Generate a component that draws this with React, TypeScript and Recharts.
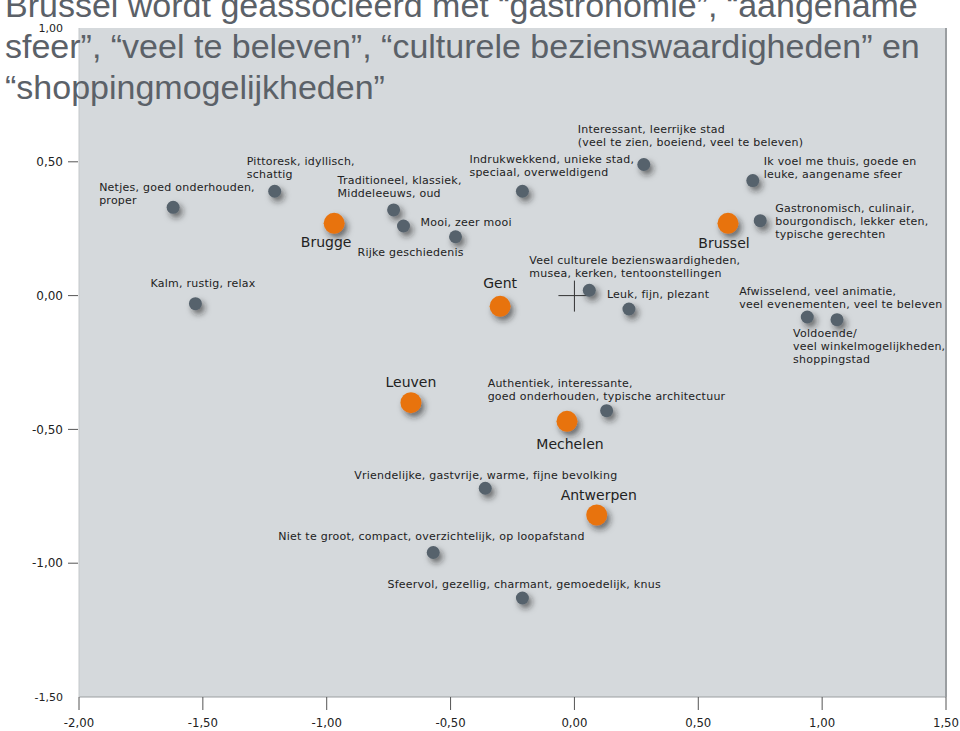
import { ScatterChart, Scatter, XAxis, YAxis, CartesianGrid, ReferenceLine, ReferenceDot } from 'recharts'

const titleLines = [
  'Brussel wordt geassocieerd met “gastronomie”, “aangename',
  'sfeer”, “veel te beleven”, “culturele bezienswaardigheden” en',
  '“shoppingmogelijkheden”'
]

const xTicks = [-2, -1.5, -1, -0.5, 0, 0.5, 1, 1.5]
const yTicks = [1, 0.5, 0, -0.5, -1, -1.5]

// kenmerken (grijze punten)
const attributeLabels = [
  ['Netjes, goed onderhouden,', 'proper'],
  ['Pittoresk, idyllisch,', 'schattig'],
  ['Traditioneel, klassiek,', 'Middeleeuws, oud'],
  ['Rijke geschiedenis'],
  ['Mooi, zeer mooi'],
  ['Indrukwekkend, unieke stad,', 'speciaal, overweldigend'],
  ['Interessant, leerrijke stad', '(veel te zien, boeiend, veel te beleven)'],
  ['Ik voel me thuis, goede en', 'leuke, aangename sfeer'],
  ['Gastronomisch, culinair,', 'bourgondisch, lekker eten,', 'typische gerechten'],
  ['Kalm, rustig, relax'],
  ['Veel culturele bezienswaardigheden,', 'musea, kerken, tentoonstellingen'],
  ['Leuk, fijn, plezant'],
  ['Afwisselend, veel animatie,', 'veel evenementen, veel te beleven'],
  ['Voldoende/', 'veel winkelmogelijkheden,', 'shoppingstad'],
  ['Authentiek, interessante,', 'goed onderhouden, typische architectuur'],
  ['Vriendelijke, gastvrije, warme, fijne bevolking'],
  ['Niet te groot, compact, overzichtelijk, op loopafstand'],
  ['Sfeervol, gezellig, charmant, gemoedelijk, knus']
]
const attributeX = [-1.62, -1.21, -0.73, -0.69, -0.48, -0.21, 0.28, 0.72, 0.75, -1.53, 0.06, 0.22, 0.94, 1.06, 0.13, -0.36, -0.57, -0.21]
const attributeY = [0.33, 0.39, 0.32, 0.26, 0.22, 0.39, 0.49, 0.43, 0.28, -0.03, 0.02, -0.05, -0.08, -0.09, -0.43, -0.72, -0.96, -1.13]

// steden (oranje punten)
const cityNames = ['Brugge', 'Gent', 'Brussel', 'Leuven', 'Mechelen', 'Antwerpen']
const cityX = [-0.97, -0.30, 0.62, -0.66, -0.03, 0.09]
const cityY = [0.27, -0.04, 0.27, -0.40, -0.47, -0.82]

// label placement (pixels relative to the dot)
const attributeLabelOffsets = [
  [-74, -19], [-28, -29], [-56, -29], [-46, 26], [-35, -15], [-53, -31],
  [-66, -35], [11, -19], [15, -11], [-45, -20], [-60, -29], [-22, -15],
  [-68, -25], [-44, 15], [-119, -27], [-131, -13], [-155, -16], [-135, -14]
]
const cityLabelOffsets = [[-8, 19], [0, -23], [-4, 20], [0, -21], [3, 23], [2, -20]]

const attributeData = attributeLabels.map((lines, i) => ({
  x: attributeX[i],
  y: attributeY[i],
  lines,
  dx: attributeLabelOffsets[i][0],
  dy: attributeLabelOffsets[i][1]
}))

const cityData = cityNames.map((name, i) => ({
  x: cityX[i],
  y: cityY[i],
  name,
  dx: cityLabelOffsets[i][0],
  dy: cityLabelOffsets[i][1]
}))

const labelFont = "'DejaVu Sans', Verdana, sans-serif"
const tickFont = "'DejaVu Sans Condensed', 'DejaVu Sans', sans-serif"
const lineGap = 13

const fmt = (v: number) => v.toFixed(2).replace('.', ',')

const AttributeDot = (props: any) => {
  const { cx, cy, payload } = props
  if (cx == null || cy == null) return null
  const n = payload.lines.length
  const top = cy + payload.dy - (n - 1) * (lineGap - 11.5) / 2
  return (
    <g>
      <circle cx={cx} cy={cy} r={6.5} fill='#56626c' filter='url(#dotShadow)' />
      {payload.lines.map((line: string, i: number) => (
        <text
          key={i}
          x={cx + payload.dx}
          y={top + i * lineGap}
          dy='0.35em'
          fontSize={11}
          letterSpacing={0.25}
          fontFamily={labelFont}
          fill='#222'
        >
          {line}
        </text>
      ))}
    </g>
  )
}

const CityDot = (props: any) => {
  const { cx, cy, payload } = props
  if (cx == null || cy == null) return null
  return (
    <g>
      <circle cx={cx} cy={cy} r={10.5} fill='#e8730c' filter='url(#dotShadow)' />
      <text
        x={cx + payload.dx}
        y={cy + payload.dy}
        dy='0.35em'
        textAnchor='middle'
        fontSize={14}
        fontFamily={labelFont}
        fill='#222'
      >
        {payload.name}
      </text>
    </g>
  )
}

const YTick = (props: any) => {
  const { x, y, payload } = props
  const v = payload.value
  const edge = v === 1 || v === -1.5
  return (
    <g>
      <text x={x - 16} y={y} dy='0.35em' textAnchor='end' fontSize={edge ? 11 : 12} fontFamily={labelFont} fill='#222'>
        {fmt(v)}
      </text>
      {!edge && <line x1={x - 11} x2={x - 1} y1={y} y2={y} stroke='#555' />}
    </g>
  )
}

const XTick = (props: any) => {
  const { x, y, payload } = props
  return (
    <g>
      <line x1={x} x2={x} y1={y} y2={y + 13} stroke='#555' />
      <text x={x} y={y + 25} dy='0.35em' textAnchor='middle' fontSize={13} fontFamily={tickFont} fill='#222'>
        {fmt(payload.value)}
      </text>
    </g>
  )
}

const Cross = (props: any) => {
  const { cx, cy } = props
  return (
    <g>
      <line x1={cx - 16} x2={cx + 16} y1={cy} y2={cy} stroke='#333' />
      <line x1={cx} x2={cx} y1={cy - 15} y2={cy + 16} stroke='#333' />
    </g>
  )
}

export default function App() {
  return (
    <div style={{ position: 'absolute', left: 0, top: 0, width: 960, height: 731, overflow: 'hidden', background: '#fff' }}>
      <svg width={0} height={0} style={{ position: 'absolute' }}>
        <defs>
          <filter id='dotShadow' x='-80%' y='-80%' width='280%' height='280%'>
            <feDropShadow dx={3} dy={4} stdDeviation={3} floodColor='#222' floodOpacity={0.6} />
          </filter>
        </defs>
      </svg>
      <ScatterChart width={960} height={731} margin={{ top: 28, right: 14, bottom: 0, left: 0 }}>
        <CartesianGrid fill='#d5d9dc' horizontal={false} vertical={false} />
        <XAxis
          type='number'
          dataKey='x'
          domain={[-2, 1.5]}
          ticks={xTicks}
          height={34}
          tickSize={0}
          tickMargin={0}
          tickLine={false}
          tick={<XTick />}
          axisLine={{ stroke: '#9a9ea1' }}
          interval={0}
        />
        <YAxis
          type='number'
          dataKey='y'
          domain={[-1.5, 1]}
          ticks={yTicks}
          width={79}
          tickSize={0}
          tickMargin={0}
          tickLine={false}
          tick={<YTick />}
          axisLine={{ stroke: '#c4c8ca' }}
          interval={0}
        />
        <ReferenceLine x={1.5} stroke='#9a9ea1' strokeWidth={2} />
        <ReferenceDot x={0} y={0} shape={<Cross />} />
        <Scatter data={attributeData} shape={<AttributeDot />} isAnimationActive={false} />
        <Scatter data={cityData} shape={<CityDot />} isAnimationActive={false} />
      </ScatterChart>
      <div
        style={{
          position: 'absolute',
          left: 5,
          top: -15,
          fontFamily: "'Liberation Sans', Arial, sans-serif",
          fontSize: 34,
          lineHeight: '41px',
          color: '#5b6168',
          whiteSpace: 'nowrap',
          pointerEvents: 'none'
        }}
      >
        {titleLines.map((line, i) => (
          <div key={i}>{line}</div>
        ))}
      </div>
    </div>
  )
}
